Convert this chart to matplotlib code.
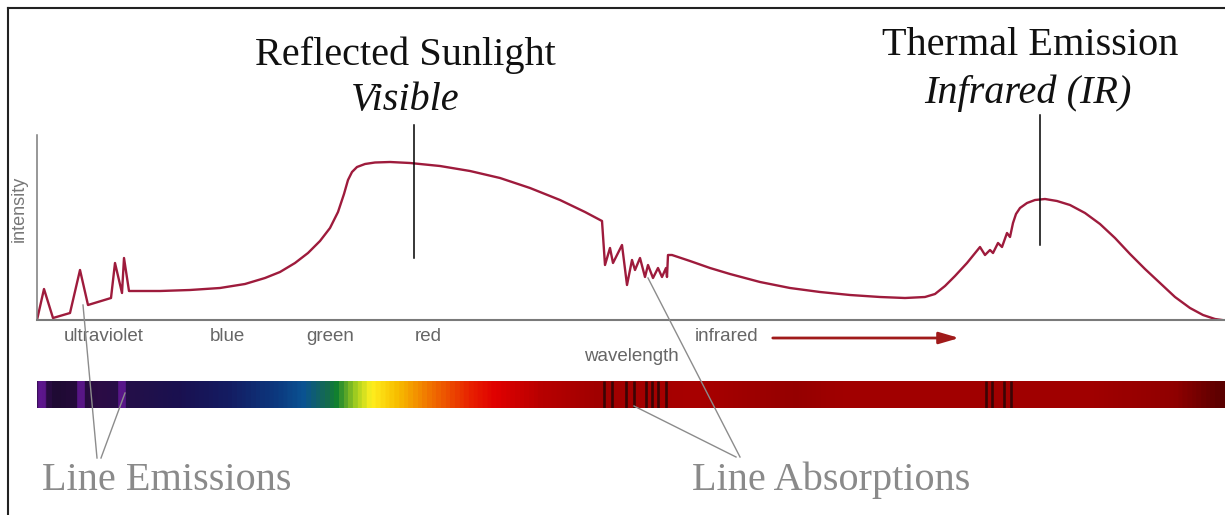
import numpy as np
import matplotlib
matplotlib.use('Agg')
import matplotlib.pyplot as plt
from matplotlib.colors import LinearSegmentedColormap

plt.rcParams['font.family'] = ['Liberation Sans', 'DejaVu Sans']

# spectrum curve, wavelength (arbitrary units) vs intensity (arbitrary units)
wavelength = [0, 7, 16, 33, 43, 51, 74, 78, 85, 87, 92,
              123, 153, 183, 208, 228, 243, 258, 271, 283, 293, 301, 307, 311, 315, 320,
              328, 338, 353, 373, 403, 433, 463, 493, 523, 548, 565,
              568, 573, 576, 585, 590, 595, 598, 603, 608, 611, 616, 621, 625, 629, 630, 631,
              635, 653, 673, 693, 723, 753, 783, 813, 843, 868, 888, 898, 908, 918, 930, 943,
              948, 953, 956, 961, 965, 970, 973,
              976, 979, 983, 990, 998, 1008, 1020, 1033, 1048, 1063, 1078, 1093, 1108, 1123,
              1138, 1153, 1166, 1178, 1185]
intensity = [0, 31, 2, 7, 50, 15, 22, 57, 27, 62, 29,
             29, 30, 32, 36, 42, 48, 57, 67, 79, 92, 108, 126, 140, 148, 153,
             156, 157.5, 158, 157, 154, 149, 142, 132, 120, 108, 99,
             55, 72, 57, 75, 35, 60, 50, 62, 43, 55, 42, 52, 43, 52, 43, 65,
             65, 59, 52, 46, 38, 32, 28, 25, 23, 22, 23, 26, 34, 44, 57, 73,
             65, 70, 67, 77, 73, 87, 83,
             97, 106, 112, 117, 120, 121, 119, 115, 107, 96, 82, 66, 51, 37,
             23, 12, 5, 1, 0]

band_names = ['ultraviolet', 'blue', 'green', 'red', 'infrared']
band_pos = [67, 190, 293, 391, 690]

emission_lines = [5, 44, 85]
absorption_lines = [567, 575, 589, 597, 609, 615, 621, 629, 949, 955, 967, 974]

# colour of the spectrum strip along the wavelength axis
strip_pos = [0, 15, 60, 100, 140, 190, 240, 265, 288, 298, 318, 333, 358, 393,
             433, 458, 503, 560, 660, 760, 810, 1060, 1140, 1188]
strip_col = ['#3a0e5a', '#1e0a32', '#2c0c45', '#22104a', '#1a1050', '#141c62', '#0c3a80',
             '#0a5292', '#156a50', '#108030', '#a8d020', '#fff020', '#f8c000', '#f07000',
             '#e82000', '#e00000', '#b80000', '#a00000', '#a80000', '#950000', '#a20000',
             '#a00000', '#900000', '#5a0000']

W, H = 1225, 515
fig = plt.figure(figsize=(W / 100, H / 100), dpi=100)
fig.patch.set_facecolor('white')

def px_rect(x0, y0, x1, y1):
    return [x0 / W, 1 - y1 / H, (x1 - x0) / W, (y1 - y0) / H]

xmax = 1188

# main curve
ax = fig.add_axes(px_rect(37, 135, 1225, 320))
ax.plot(wavelength, intensity, color='#9e1b3c', linewidth=1.7)
ax.set_xlim(0, xmax)
ax.set_ylim(0, 185)
ax.patch.set_alpha(0)
for s in ['top', 'right']:
    ax.spines[s].set_visible(False)
ax.spines['left'].set_color('#7a7a7a')
ax.spines['left'].set_linewidth(1.1)
ax.spines['bottom'].set_color('#7a7a7a')
ax.spines['bottom'].set_linewidth(1.5)
ax.set_yticks([])
ax.set_xticks(band_pos)
ax.set_xticklabels(band_names)
ax.tick_params(axis='x', length=0, pad=6, labelsize=13.5, labelcolor='#666666')
ax.set_xlabel('wavelength', fontsize=13.5, color='#666666', labelpad=2)
ax.set_ylabel('intensity', fontsize=13, color='#777777')
ax.yaxis.set_label_coords(-0.008, 0.6)

# spectrum strip
axb = fig.add_axes(px_rect(37, 381, 1225, 408))
cmap = LinearSegmentedColormap.from_list(
    'strip', list(zip(np.array(strip_pos) / xmax, strip_col)))
grad = np.linspace(0, 1, 1200).reshape(1, -1)
axb.imshow(grad, cmap=cmap, aspect='auto', extent=(0, xmax, 0, 1))
axb.vlines(emission_lines, 0, 1, color='#6a1aa0', linewidth=5.5, alpha=0.75)
axb.vlines(absorption_lines, 0, 1, color='#3a0505', linewidth=1.9)
axb.set_xlim(0, xmax)
axb.set_ylim(0, 1)
axb.axis('off')

# overlay in pixel coordinates for titles and pointers
ov = fig.add_axes([0, 0, 1, 1])
ov.set_xlim(0, W)
ov.set_ylim(H, 0)
ov.axis('off')
ov.patch.set_alpha(0)

serif = ['Liberation Serif', 'DejaVu Serif']
ov.text(405, 65, 'Reflected Sunlight', family=serif, fontsize=29, ha='center', va='baseline', color='#111111')
ov.text(405, 110, 'Visible', family=serif, style='italic', fontsize=29, ha='center', va='baseline', color='#111111')
ov.text(1030, 55, 'Thermal Emission', family=serif, fontsize=29, ha='center', va='baseline', color='#111111')
ov.text(1028, 103, 'Infrared (IR)', family=serif, style='italic', fontsize=29, ha='center', va='baseline', color='#111111')
ov.text(42, 490, 'Line Emissions', family=serif, fontsize=29, ha='left', va='baseline', color='#8a8a8a')
ov.text(831, 490, 'Line Absorptions', family=serif, fontsize=29, ha='center', va='baseline', color='#8a8a8a')

ov.plot([414, 414], [125, 258], color='black', linewidth=1.1)
ov.plot([1040, 1040], [115, 245], color='black', linewidth=1.1)

grey = '#8c8c8c'
ov.plot([83, 97], [305, 458], color=grey, linewidth=1.0)
ov.plot([125, 101], [393, 458], color=grey, linewidth=1.0)
ov.plot([648, 740], [278, 457], color=grey, linewidth=1.0)
ov.plot([634, 736], [406, 457], color=grey, linewidth=1.0)

ov.annotate('', xy=(962, 338), xytext=(770, 338),
            arrowprops=dict(arrowstyle='-|>,head_length=1.2,head_width=0.35',
                            color='#a01a1a', linewidth=2))

# frame
ov.plot([8, 1225], [8, 8], color='#222222', linewidth=1.5)
ov.plot([8, 8], [8, 515], color='#222222', linewidth=1.5)

fig.savefig('out.png', dpi=100, facecolor='white')
